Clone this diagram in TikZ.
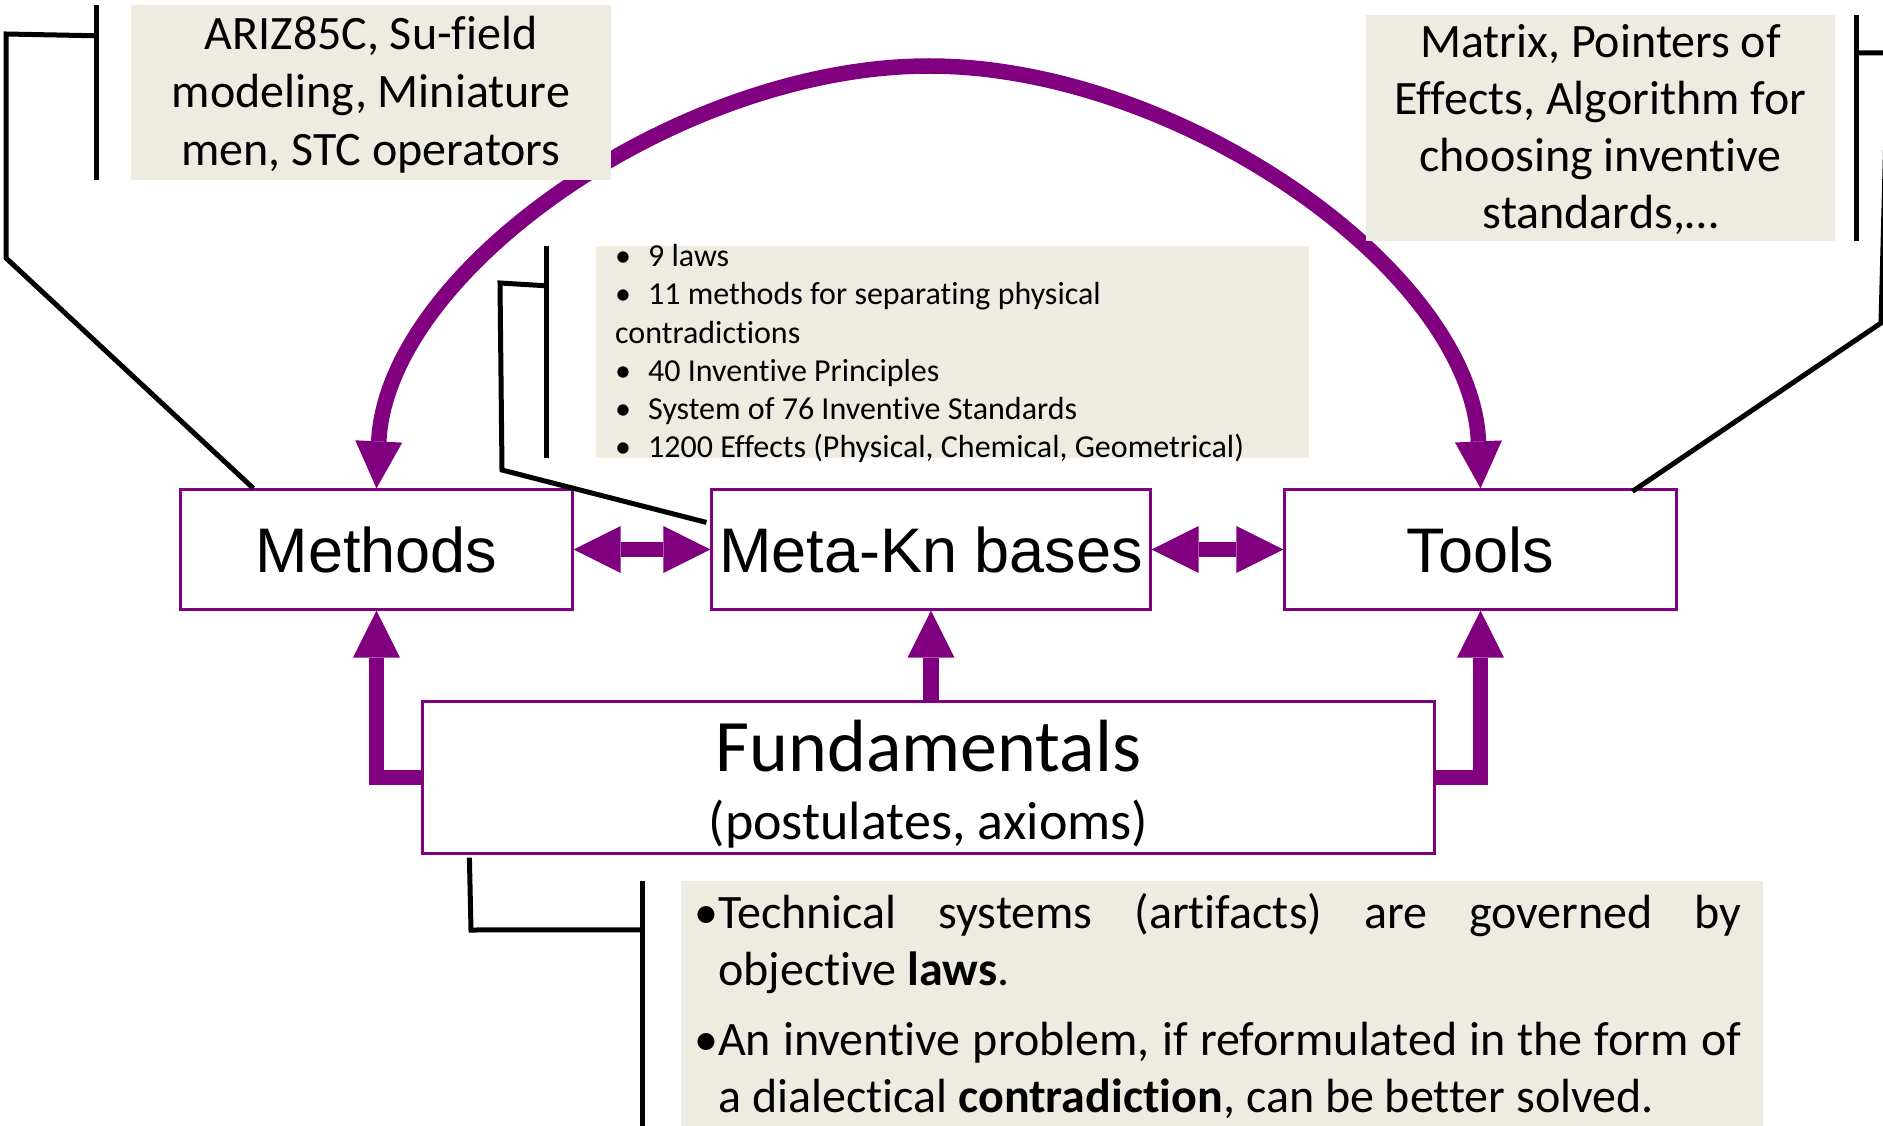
\documentclass[tikz,border=0pt]{standalone}
\usepackage{fontspec}
\setmainfont{Carlito}[Ligatures=NoCommon]
\newfontfamily\headfont{Liberation Sans}
\usetikzlibrary{arrows.meta}
\definecolor{plum}{RGB}{128,0,128}
\definecolor{paper}{RGB}{238,236,225}

\begin{document}
\begin{tikzpicture}[x=1pt,y=-1pt,
  >={Triangle[width=47pt,length=47pt,line width=0pt]},
  mainbox/.style={draw=plum, line width=2.2pt, fill=white, inner sep=0pt,
    minimum height=120pt, text height=45pt, text depth=0pt,
    font=\headfont\fontsize{63}{70}\selectfont},
  notebox/.style={fill=paper, inner sep=0pt},
  notetxt/.style={anchor=base, inner sep=0pt, font=\fontsize{48}{57.6}\selectfont},
  bodytxt/.style={anchor=base west, inner sep=0pt, font=\fontsize{48}{57.6}\selectfont},
  listtxt/.style={anchor=base west, inner sep=0pt, font=\fontsize{32}{38}\selectfont},
  leader/.style={draw=black, line width=5pt, line join=miter},
  fatlink/.style={draw=plum, line width=15.5pt, line join=miter, ->},
  twoway/.style={draw=plum, line width=15.5pt, <->},
]
\newcommand\itm{\makebox[33pt][l]{•}}

% page frame
\useasboundingbox (0,0) rectangle (1883,1126);

% main boxes
\node[mainbox, minimum width=392pt] (methods) at (376.5,549.5) {Methods};
\node[mainbox, minimum width=439pt] (meta) at (931,549.5) {Meta-Kn bases};
\node[mainbox, minimum width=392pt] (tools) at (1480.5,549.5) {Tools};
\node[mainbox, minimum width=1012pt, minimum height=152pt, text height=, text depth=] (fund) at (928.5,777.5) {};

% apex of the large arc
\coordinate (apex) at (929,66);

% large two-way arc between Methods and Tools
\draw[twoway] (methods.north) .. controls (387,270) and (680,66) .. (apex)
  .. controls (1178,66) and (1471,270) .. (tools.north);

% note boxes
\node[notebox, minimum width=480pt, minimum height=175pt] (ariz) at (371,92.5) {};
\node[notebox, minimum width=469pt, minimum height=226pt] (mtx) at (1600.5,128) {};
\node[notebox, minimum width=713pt, minimum height=212pt] (kb) at (952.5,352) {};
\node[notebox, minimum width=1082pt, minimum height=249pt] (lawbox) at (1222,1005.5) {};

% note texts: methods
\node[notetxt] (ariz1) at (371,50) {ARIZ85C, Su-field};
\node[notetxt] (ariz2) at (371,108) {modeling, Miniature};
\node[notetxt] (ariz3) at (371,166) {men, STC operators};

% note texts: tools
\node[notetxt] (mtx1) at (1600.5,58) {Matrix, Pointers of};
\node[notetxt] (mtx2) at (1600.5,115) {Effects, Algorithm for};
\node[notetxt] (mtx3) at (1600.5,172) {choosing inventive};
\node[notetxt] (mtx4) at (1600.5,229) {standards,…};

% note texts: knowledge bases
\node[listtxt] (kb1) at (615,267) {\itm 9 laws};
\node[listtxt] (kb2) at (615,305) {\itm 11 methods for separating physical};
\node[listtxt] (kb3) at (615,343) {contradictions};
\node[listtxt] (kb4) at (615,381) {\itm 40 Inventive Principles};
\node[listtxt] (kb5) at (615,419) {\itm System of 76 Inventive Standards};
\node[listtxt] (kb6) at (615,457) {\itm 1200 Effects (Physical, Chemical, Geometrical)};

% note texts: fundamentals
\node[bodytxt] (law1) at (718,928) {\llap{•}\makebox[1023pt][s]{Technical systems (artifacts) are governed by}};
\node[bodytxt] (law2) at (718,985) {objective \textbf{laws}.};
\node[bodytxt] (law3) at (718,1055) {\llap{•}\makebox[1023pt][s]{An inventive problem, if reformulated in the form of}};
\node[bodytxt] (law4) at (718,1112) {a dialectical \textbf{contradiction}, can be better solved.};

% fundamentals caption
\node[anchor=base, inner sep=0pt, font=\fontsize{74}{80}\selectfont] (fundtitle) at (928.5,771) {Fundamentals};
\node[anchor=base, inner sep=0pt, font=\fontsize{54}{62}\selectfont] (fundsub) at (928.5,839) {(postulates, axioms)};

% leader lines
\draw[leader] ([xshift=-34pt]ariz.north west) -- ([xshift=-34pt]ariz.south west);
\draw[leader] ([xshift=-34pt,yshift=-31pt]ariz.north west) -- (6,34) -- (6,258)
  -- ([xshift=74pt]methods.north west);

\draw[leader] ([xshift=-49.5pt]kb.north west) -- ([xshift=-49.5pt]kb.south west);
\draw[leader] ([xshift=-49.5pt,yshift=-40pt]kb.north west) -- (500,283) -- (502,470)
  -- ([xshift=-4pt,yshift=-34pt]meta.north west);

\draw[leader] ([xshift=21pt]mtx.north east) -- ([xshift=21pt]mtx.south east);
\draw[leader] ([xshift=21pt,yshift=-38pt]mtx.north east) -- (1888,53) -- (1881,323)
  -- ([xshift=349pt,yshift=-3pt]tools.north west);

\draw[leader] ([xshift=-38pt]lawbox.north west) -- ([xshift=-38pt]lawbox.south west);
\draw[leader] ([xshift=-38pt,yshift=-49pt]lawbox.north west) -- (471,930)
  -- ([xshift=48pt,yshift=-3pt]fund.south west);

% links between the main boxes
\draw[twoway] (methods.east) -- (meta.west);
\draw[twoway] (meta.east) -- (tools.west);
\draw[fatlink] (meta.south |- fund.north) -- (meta.south);
\draw[fatlink] (fund.west) -| (methods.south);
\draw[fatlink] (fund.east) -| (tools.south);
\end{tikzpicture}
\end{document}
